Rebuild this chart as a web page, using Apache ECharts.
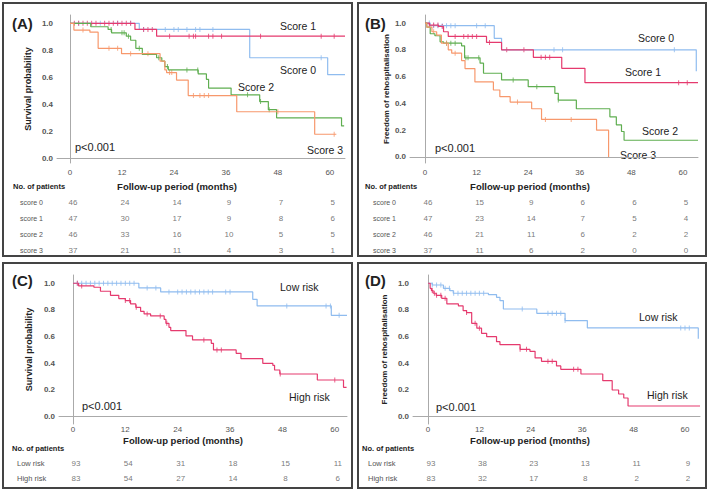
<!DOCTYPE html>
<html>
<head>
<meta charset="utf-8">
<script src="https://cdn.jsdelivr.net/npm/echarts@6/dist/echarts.min.js"></script>
<style>
html, body { margin: 0; padding: 0; background: #fff; }
#chart { width: 709px; height: 493px; }
</style>
</head>
<body>
<div id="chart"></div>
<script>
// follow-up months shown on the axes and in the risk tables
const months = [0, 12, 24, 36, 48, 60];
const yTicks = [0, 0.2, 0.4, 0.6, 0.8, 1.0];

// (A) survival by score  [month, survival]
const aScore0 = [[0,1],[16,0.955],[41.5,0.745],[59.5,0.62],[63.5,0.62]];
const aScore1 = [[0,1],[15,0.955],[20,0.905],[63.5,0.905]];
const aScore2 = [[0,1],[4.8,0.975],[8.8,0.955],[9.6,0.93],[13,0.905],[14,0.875],[15.2,0.815],[16.7,0.77],[20,0.745],[21.2,0.72],[21.9,0.68],[22.7,0.655],[29.6,0.625],[31.5,0.585],[32,0.52],[37.2,0.47],[43.8,0.42],[45.8,0.36],[47.7,0.30],[62.7,0.24],[63.3,0.24]];
const aScore3 = [[0,1],[0.9,0.95],[4.6,0.935],[6.5,0.815],[11.9,0.775],[20.8,0.72],[21.9,0.655],[22.3,0.635],[24.6,0.58],[27.3,0.465],[38.5,0.345],[56.5,0.178],[61.5,0.178]];
// censored times
const aCens0 = [2, 7, 11, 14, 17, 22, 24, 25, 27, 29, 30, 33, 58];
const aCens1 = [1, 2, 3, 4, 5, 6, 8, 9, 10, 11, 12, 13, 14, 17, 18, 19, 23, 27.5, 28.5, 29, 32, 33, 35, 44, 58, 61];
const aCens2 = [9.5, 12, 12.5, 13.5, 16, 20.5, 22.5, 27, 29.5, 41, 44, 46];
const aCens3 = [3, 9, 11, 14, 18, 23, 23.5, 28.5, 30, 31, 32, 48, 61];

// (B) freedom of rehospitalisation by score
const bScore0 = [[0,1],[1.2,0.98],[16.1,0.886],[17.8,0.80],[63.1,0.64]];
const bScore1 = [[0,1],[1,0.985],[3.1,0.975],[4.3,0.935],[5.4,0.90],[14.3,0.855],[17.8,0.80],[25.2,0.744],[31.8,0.662],[37.2,0.555],[63.5,0.555]];
const bScore2 = [[0,1],[0.4,0.97],[1.2,0.92],[2.3,0.905],[3.5,0.86],[4.3,0.85],[8.5,0.83],[9.2,0.74],[12.8,0.70],[13.6,0.625],[17.8,0.575],[24,0.525],[30.2,0.475],[31,0.425],[35.2,0.36],[43,0.30],[44.5,0.24],[45.7,0.19],[46.3,0.125],[63.5,0.125]];
const bScore3 = [[0,1],[0.4,0.97],[1.6,0.935],[2.7,0.91],[3.8,0.85],[5.4,0.80],[6.2,0.775],[8.5,0.72],[9.3,0.66],[11.6,0.56],[15.9,0.50],[17.4,0.45],[19.8,0.41],[24.8,0.36],[27.1,0.28],[39.9,0.20],[42.7,0]];
const bCens0 = [1, 2, 3, 4, 5, 6, 7, 12, 14, 30, 32, 58];
const bCens1 = [1, 2, 3, 4, 7, 9, 10, 11, 12, 15, 19, 23, 27, 28, 29, 59, 61];
const bCens2 = [5, 6, 7, 9.5, 10, 12.5, 20.5, 26, 31];
const bCens3 = [2, 5, 7, 21.5, 28, 34];

// (C) survival by risk group
const cLow = [[0,1],[15.1,0.965],[20.1,0.935],[41.2,0.88],[42.2,0.83],[59.2,0.76],[62.8,0.76]];
const cHigh = [[0,1],[1.3,0.98],[4.8,0.97],[6.3,0.94],[8.6,0.91],[10.5,0.885],[12,0.87],[13.2,0.845],[14.4,0.82],[15.5,0.79],[16.3,0.77],[17.8,0.755],[20.9,0.73],[21.3,0.70],[22,0.67],[22.4,0.645],[25.9,0.605],[27.4,0.575],[31.7,0.55],[32.2,0.50],[37.4,0.475],[38.5,0.435],[43.5,0.40],[45.8,0.385],[46.2,0.35],[47.4,0.32],[56,0.275],[62,0.22],[62.7,0.22]];
const cCensLow = [1, 2, 3, 4, 5, 6, 7, 8, 9, 10, 11, 12, 13, 14, 17, 19, 22, 24, 25, 26, 27, 28, 29, 30, 31, 32, 35, 36, 49, 58, 59, 61];
const cCensHigh = [1, 2, 12, 13, 14.5, 17, 20, 21.5, 30, 33, 34, 47.5, 60];

// (D) freedom of rehospitalisation by risk group
const dLow = [[0,1],[1,0.987],[3.6,0.962],[5.1,0.945],[5.9,0.925],[14.1,0.915],[16,0.895],[16.8,0.87],[17.6,0.807],[25.4,0.775],[32,0.72],[37.2,0.665],[63.1,0.585]];
const dHigh = [[0,1],[0.5,0.962],[0.8,0.945],[1.2,0.925],[1.9,0.91],[3.2,0.887],[4.4,0.845],[7.1,0.83],[8.2,0.795],[9,0.78],[10.2,0.70],[11.4,0.663],[12.5,0.625],[13.7,0.60],[16,0.562],[16.8,0.54],[21.5,0.505],[23.8,0.49],[25,0.44],[26.5,0.415],[30,0.38],[31,0.355],[35.7,0.32],[40.8,0.27],[43,0.20],[44.5,0.17],[45.7,0.14],[46.7,0.08],[63.5,0.08]];
const dCensLow = [1, 2, 3, 4, 5, 6, 7, 8, 9, 10, 11, 12, 13, 22, 28, 29, 30, 31, 32, 59, 60, 61];
const dCensHigh = [1, 1.5, 2, 3, 4, 9, 11, 12, 21.5, 23, 28, 29, 34, 35];

// number at risk tables
const scoreRows = ['score 0', 'score 1', 'score 2', 'score 3'];
const riskRows = ['Low risk', 'High risk'];
const atRiskA = [[46,24,14,9,7,5],[47,30,17,9,8,6],[46,33,16,10,5,5],[37,21,11,4,3,1]];
const atRiskB = [[46,15,9,6,6,5],[47,23,14,7,5,4],[46,21,11,6,2,2],[37,11,6,2,0,0]];
const atRiskC = [[93,54,31,18,15,11],[83,54,27,14,8,6]];
const atRiskD = [[93,38,23,13,11,9],[83,32,17,8,2,2]];

const BLUE = '#8fbcef', PINK = '#e53a6e', GREEN = '#5fae50', ORANGE = '#f7986c';
const FONT = 'Liberation Sans, Arial, sans-serif';

let chart = echarts.init(document.getElementById('chart'), null, { renderer: 'svg' });

// plot and table layout of each panel
const panels = [
    { grid: { left: 57, top: 15, width: 288, height: 148 }, xMin: -3, xMax: 63.5, yMin: -0.035, yMax: 1.062,
      yName: 'Survival probability', nameSize: 9, nameGap: 25, xMargin: 5,
      table: { left: 57, top: 194, width: 288, height: 64 }, rowMargin: 37, rows: scoreRows, risk: atRiskA, tSize: 7 },
    { grid: { left: 410, top: 15, width: 288, height: 148 }, xMin: -3.5, xMax: 63.5, yMin: -0.045, yMax: 1.06,
      yName: 'Freedom of rehospitalisation', nameSize: 8, nameGap: 20, xMargin: 5,
      table: { left: 410, top: 194, width: 288, height: 64 }, rowMargin: 37, rows: scoreRows, risk: atRiskB, tSize: 7 },
    { grid: { left: 59, top: 275, width: 288, height: 149 }, xMin: -3.2, xMax: 62.8, yMin: -0.055, yMax: 1.062,
      yName: 'Survival probability', nameSize: 9, nameGap: 26, xMargin: 1,
      table: { left: 59, top: 455.5, width: 288, height: 30 }, rowMargin: 42, rows: riskRows, risk: atRiskC, tSize: 7.5 },
    { grid: { left: 413, top: 275, width: 287, height: 149 }, xMin: -3.5, xMax: 63.5, yMin: -0.055, yMax: 1.062,
      yName: 'Freedom of rehospitalisation', nameSize: 8, nameGap: 25, xMargin: 1,
      table: { left: 413, top: 455.5, width: 287, height: 30 }, rowMargin: 45, rows: riskRows, risk: atRiskD, tSize: 7.5 }
];

// curves of each panel: data, censored times, colour
const curves = [
    [[aScore0, aCens0, BLUE], [aScore1, aCens1, PINK], [aScore2, aCens2, GREEN], [aScore3, aCens3, ORANGE]],
    [[bScore0, bCens0, BLUE], [bScore1, bCens1, PINK], [bScore2, bCens2, GREEN], [bScore3, bCens3, ORANGE]],
    [[cLow, cCensLow, BLUE], [cHigh, cCensHigh, PINK]],
    [[dLow, dCensLow, BLUE], [dHigh, dCensHigh, PINK]]
];

function survAt(curve, t) {
    let s = 1;
    curve.forEach(p => { if (p[0] <= t) s = p[1]; });
    return s;
}

let grids = [], xAxes = [], yAxes = [], series = [];

panels.forEach((p, i) => {
    grids.push(p.grid);
    xAxes.push({
        gridIndex: i, type: 'value', min: p.xMin, max: p.xMax,
        axisLine: { lineStyle: { color: '#aaa', width: 1 } },
        axisTick: { show: false }, splitLine: { show: false },
        axisLabel: { customValues: months, color: '#555', fontSize: 8, fontFamily: FONT, margin: p.xMargin }
    });
    yAxes.push({
        gridIndex: i, type: 'value', min: p.yMin, max: p.yMax,
        name: p.yName, nameLocation: 'middle', nameGap: p.nameGap,
        nameTextStyle: { fontSize: p.nameSize, fontWeight: 'bold', color: '#222', fontFamily: FONT },
        axisLine: { show: true, lineStyle: { color: '#aaa', width: 1 } },
        axisTick: { show: false }, splitLine: { show: false },
        axisLabel: { customValues: yTicks, formatter: v => v.toFixed(1), color: '#555', fontWeight: 'bold',
                     fontSize: 8, fontFamily: FONT, margin: 4 }
    });
    curves[i].forEach(c => {
        series.push({
            type: 'line', step: 'end', xAxisIndex: i, yAxisIndex: i, data: c[0],
            showSymbol: false, lineStyle: { color: c[2], width: 1.2 }, itemStyle: { color: c[2] }, silent: true
        });
        series.push({
            type: 'scatter', xAxisIndex: i, yAxisIndex: i, symbol: 'rect', symbolSize: [1, 5],
            data: c[1].map(t => [t, survAt(c[0], t)]), itemStyle: { color: c[2] }, silent: true
        });
    });
});

// risk tables share the x range of the plot above them
panels.forEach((p, i) => {
    let k = i + 4;
    grids.push(p.table);
    xAxes.push({ gridIndex: k, type: 'value', min: p.xMin, max: p.xMax, show: false });
    yAxes.push({
        gridIndex: k, type: 'category', data: p.rows, inverse: true,
        axisLine: { show: false }, axisTick: { show: false },
        axisLabel: { align: 'left', margin: p.rowMargin, color: '#555', fontSize: p.tSize, fontFamily: FONT }
    });
    let cells = [];
    p.risk.forEach((row, r) => row.forEach((n, j) => cells.push([months[j], r, n])));
    series.push({
        type: 'scatter', xAxisIndex: k, yAxisIndex: k, symbolSize: 0, data: cells, silent: true,
        label: { show: true, position: 'inside', offset: [3, 0], formatter: d => d.value[2],
                 color: '#555', fontSize: 8, fontFamily: FONT }
    });
});

function txt(text, x, y, size, bold, align) {
    return { type: 'text', x: x, y: y, silent: true, style: {
        text: text, fontSize: size, fontWeight: bold ? 'bold' : 'normal', fontFamily: FONT,
        fill: '#222', align: align || 'left', verticalAlign: 'middle' } };
}
function box(x, y, w, h) {
    return { type: 'rect', shape: { x: x, y: y, width: w, height: h }, silent: true,
             style: { fill: null, stroke: '#444', lineWidth: 2 } };
}

let graphics = [
    box(3, 3, 349, 253), box(358, 3, 348, 253), box(3, 263, 349, 225), box(358, 263, 348, 225),
    txt('(A)', 12, 23, 15, true), txt('(B)', 365, 23, 15, true),
    txt('(C)', 12, 280, 15, true), txt('(D)', 365, 280, 15, true),
    txt('Score 1', 280, 26, 10.5), txt('Score 0', 280, 70, 10.5), txt('Score 2', 238, 87, 10.5), txt('Score 3', 307, 150, 10.5),
    txt('Score 0', 638, 38, 10.5), txt('Score 1', 625, 72, 10.5), txt('Score 2', 642, 131, 10.5), txt('Score 3', 620, 155, 10.5),
    txt('Low risk', 280, 287, 10.5), txt('High risk', 289, 397, 10.5),
    txt('Low risk', 639, 317, 10.5), txt('High risk', 647, 395, 10.5),
    txt('p<0.001', 75, 147, 11), txt('p<0.001', 435, 148, 11), txt('p<0.001', 82, 406, 11), txt('p<0.001', 436, 407, 11),
    txt('No. of patients', 13, 186, 7.5, true), txt('Follow-up period (months)', 177, 186, 9.5, true, 'center'),
    txt('No. of patients', 365, 186, 7.5, true), txt('Follow-up period (months)', 530, 186, 9.5, true, 'center'),
    txt('No. of patients', 12, 448, 7.5, true), txt('Follow-up period (months)', 183, 440, 9.5, true, 'center'),
    txt('No. of patients', 362, 448, 7.5, true), txt('Follow-up period (months)', 530, 440, 9.5, true, 'center')
];

let option = {
    animation: false,
    backgroundColor: '#fff',
    grid: grids,
    xAxis: xAxes,
    yAxis: yAxes,
    series: series,
    graphic: graphics
};

chart.setOption(option);
</script>
</body>
</html>
